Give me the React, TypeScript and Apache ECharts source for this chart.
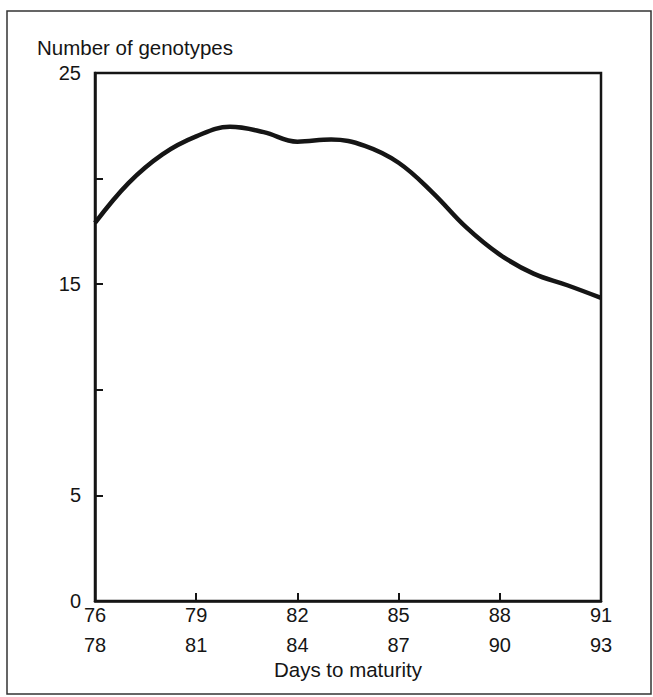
import React, { useEffect, useRef } from "react";
import * as echarts from "echarts";

const days = ["76", "77", "78", "79", "80", "81", "82", "83", "84", "85", "86", "87", "88", "89", "90", "91"];
const genotypes = [17.9, 19.8, 21.15, 22.0, 22.45, 22.2, 21.75, 21.85, 21.55, 20.75, 19.35, 17.7, 16.4, 15.5, 14.95, 14.35];
const rangeStart = ["76", "79", "82", "85", "88", "91"];
const rangeEnd = ["78", "81", "84", "87", "90", "93"];
const yLabels = [0, 5, 15, 25];

const FONT = '"Liberation Sans", Arial, Helvetica, sans-serif';
const INK = "#151515";

export default function App() {
  const ref = useRef<HTMLDivElement>(null);
  useEffect(() => {
    if (!ref.current) return;
    const chart = echarts.init(ref.current, null, { renderer: "svg" });
    const showCat = (_i: number, v: string) => rangeStart.includes(v);
    chart.setOption({
      animation: false,
      backgroundColor: "#ffffff",
      textStyle: { fontFamily: FONT, color: INK },
      grid: {
        left: 95,
        top: 73,
        width: 506,
        height: 528,
        show: true,
        borderColor: INK,
        borderWidth: 2.5,
        containLabel: false,
      },
      graphic: [
        {
          type: "rect",
          shape: { x: 7, y: 11, width: 644, height: 683 },
          style: { fill: "none", stroke: "#333", lineWidth: 1.5 },
          silent: true,
        },
        {
          type: "text",
          left: 37,
          top: 37,
          style: { text: "Number of genotypes", font: `20.5px ${FONT}`, fill: INK },
        },
      ],
      xAxis: {
        type: "category",
        data: days,
        boundaryGap: false,
        name: "Days to maturity",
        nameLocation: "middle",
        nameGap: 58,
        nameMoveOverlap: false,
        nameTextStyle: { fontSize: 20.5, color: INK, fontFamily: FONT },
        axisLine: { show: true, lineStyle: { color: INK, width: 2.5 } },
        axisTick: { show: true, inside: true, length: 8, interval: showCat, lineStyle: { color: INK, width: 2 } },
        axisLabel: {
          interval: showCat,
          color: INK,
          fontSize: 20,
          fontFamily: FONT,
          lineHeight: 30,
          margin: -1,
          formatter: (v: string) => {
            const i = rangeStart.indexOf(v);
            return i >= 0 ? `${rangeStart[i]}\n${rangeEnd[i]}` : "";
          },
        },
        splitLine: { show: false },
      },
      yAxis: {
        type: "value",
        min: 0,
        max: 25,
        interval: 5,
        axisLine: { show: true, lineStyle: { color: INK, width: 2.5 } },
        axisTick: { show: true, inside: true, length: 8, lineStyle: { color: INK, width: 2 } },
        axisLabel: {
          color: INK,
          fontSize: 20,
          fontFamily: FONT,
          margin: 14,
          formatter: (v: number) => (yLabels.includes(v) ? String(v) : ""),
        },
        splitLine: { show: false },
      },
      series: [
        {
          type: "line",
          data: genotypes,
          smooth: 0.4,
          showSymbol: false,
          lineStyle: { color: INK, width: 4.5 },
        },
      ],
    });
    return () => chart.dispose();
  }, []);
  return <div ref={ref} style={{ position: "absolute", left: 0, top: 0, width: 653, height: 697 }} />;
}
